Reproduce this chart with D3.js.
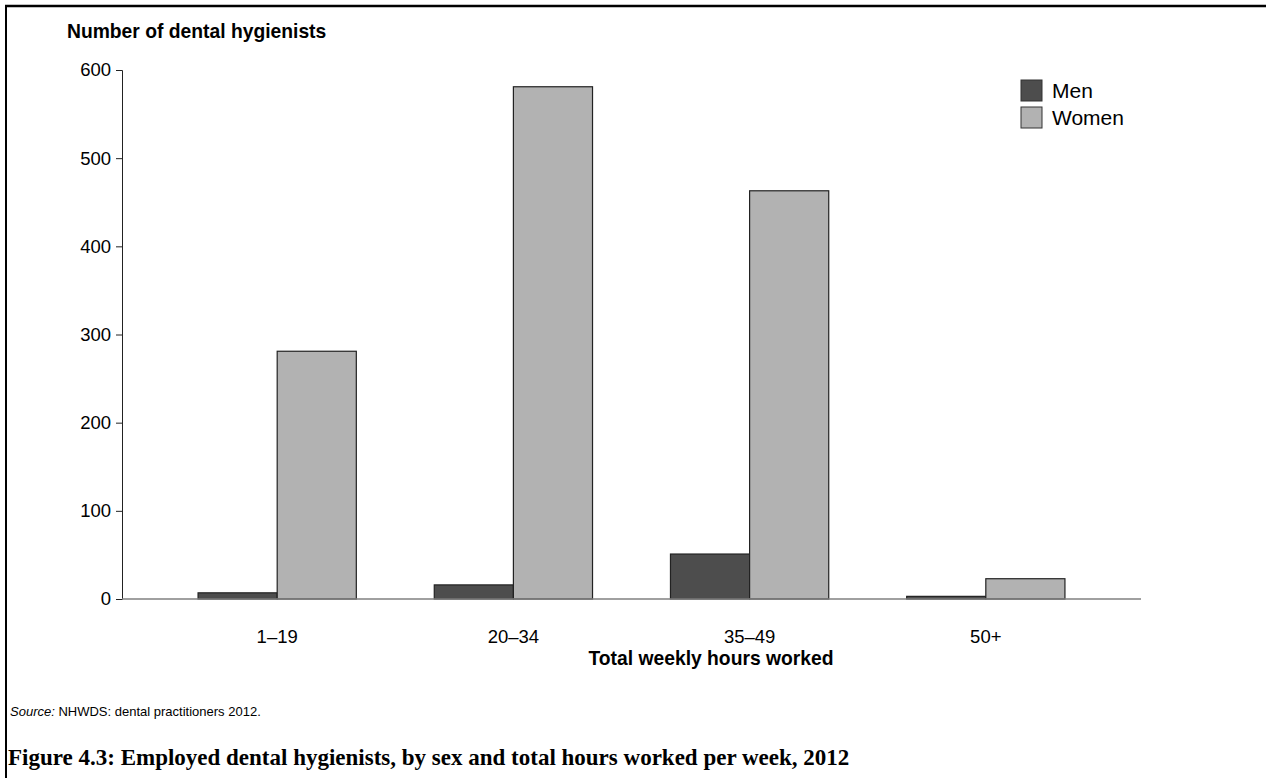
<!DOCTYPE html>
<html>
<head>
<meta charset="utf-8">
<script src="https://cdn.jsdelivr.net/npm/d3@7"></script>
<style>
  body { margin: 0; background: #fff; }
  text { font-family: "Liberation Sans", Arial, sans-serif; }
</style>
</head>
<body>
<script>
// hours worked bands
const categories = ["1\u201319", "20\u201334", "35\u201349", "50+"];
const series = ["Men", "Women"];
const men = [7, 16, 51, 3];
const women = [281, 581, 463, 23];
const yTicks = [0, 100, 200, 300, 400, 500, 600];
const colors = ["#4d4d4d", "#b2b2b2"];

const W = 1266, H = 778;
const svg = d3.select("body").append("svg")
  .attr("width", W)
  .attr("height", H);

// frame (top + left rule)
svg.append("line").attr("x1", 5).attr("x2", W).attr("y1", 6).attr("y2", 6)
  .attr("stroke", "#000").attr("stroke-width", 2.5);
svg.append("line").attr("x1", 6).attr("x2", 6).attr("y1", 5).attr("y2", H)
  .attr("stroke", "#000").attr("stroke-width", 2);

const x = d3.scaleBand()
  .domain(categories)
  .range([122, 1141])
  .paddingInner(0.33)
  .paddingOuter(0.322);

const xs = d3.scaleBand()
  .domain(series)
  .range([0, x.bandwidth()]);

const y = d3.scaleLinear()
  .domain([0, 600])
  .range([599, 70]);

const rows = categories.map((c, i) => ({cat: c, vals: [men[i], women[i]]}));

// bars
const groups = svg.selectAll("g.cat")
  .data(rows)
  .enter()
    .append("g")
    .attr("class", "cat")
    .attr("transform", d => "translate(" + x(d.cat) + ",0)");

groups.selectAll("rect")
  .data(d => d.vals.map((v, j) => ({s: series[j], v: v, j: j})))
  .enter()
    .append("rect")
    .attr("x", d => xs(d.s))
    .attr("y", d => y(d.v))
    .attr("width", xs.bandwidth())
    .attr("height", d => y(0) - y(d.v))
    .attr("fill", d => colors[d.j])
    .attr("stroke", "#222")
    .attr("stroke-width", 1.2);

// y axis
const yAxis = svg.append("g")
  .attr("transform", "translate(122,0)")
  .call(d3.axisLeft(y).tickValues(yTicks).tickSize(6).tickPadding(5));
yAxis.select(".domain").attr("stroke", "#222");
yAxis.selectAll(".tick line").attr("stroke", "#222");
yAxis.selectAll("text").attr("font-size", 18.5).attr("fill", "#000")
  .style("font-family", "'Liberation Sans', Arial, sans-serif");

// x axis baseline
svg.append("line")
  .attr("x1", 122).attr("x2", 1141)
  .attr("y1", y(0)).attr("y2", y(0))
  .attr("stroke", "#808080").attr("stroke-width", 1.5);

// x category labels
svg.selectAll("text.xlab")
  .data(categories)
  .enter()
    .append("text")
    .attr("class", "xlab")
    .attr("x", d => x(d) + x.bandwidth() / 2)
    .attr("y", 643)
    .attr("text-anchor", "middle")
    .attr("font-size", 18.5)
    .text(d => d);

svg.append("text")
  .attr("x", 711)
  .attr("y", 665)
  .attr("text-anchor", "middle")
  .attr("font-size", 19.3)
  .attr("font-weight", "bold")
  .text("Total weekly hours worked");

svg.append("text")
  .attr("x", 67)
  .attr("y", 38)
  .attr("font-size", 19.3)
  .attr("font-weight", "bold")
  .text("Number of dental hygienists");

// legend
const leg = svg.selectAll("g.leg")
  .data(series)
  .enter()
    .append("g")
    .attr("class", "leg")
    .attr("transform", (d, i) => "translate(1021," + (80 + i * 27) + ")");
leg.append("rect")
  .attr("width", 21).attr("height", 21)
  .attr("fill", (d, i) => colors[i])
  .attr("stroke", "#333").attr("stroke-width", 1);
leg.append("text")
  .attr("x", 31).attr("y", 18)
  .attr("font-size", 21)
  .text(d => d);

// source + figure title
const src = svg.append("text").attr("x", 10).attr("y", 716).attr("font-size", 13);
src.append("tspan").attr("font-style", "italic").text("Source:");
src.append("tspan").text(" NHWDS: dental practitioners 2012.");

svg.append("text")
  .attr("x", 8)
  .attr("y", 765)
  .attr("font-size", 23)
  .attr("font-weight", "bold")
  .style("font-family", "'Liberation Serif', 'DejaVu Serif', serif")
  .text("Figure 4.3: Employed dental hygienists, by sex and total hours worked per week, 2012");
</script>
</body>
</html>
